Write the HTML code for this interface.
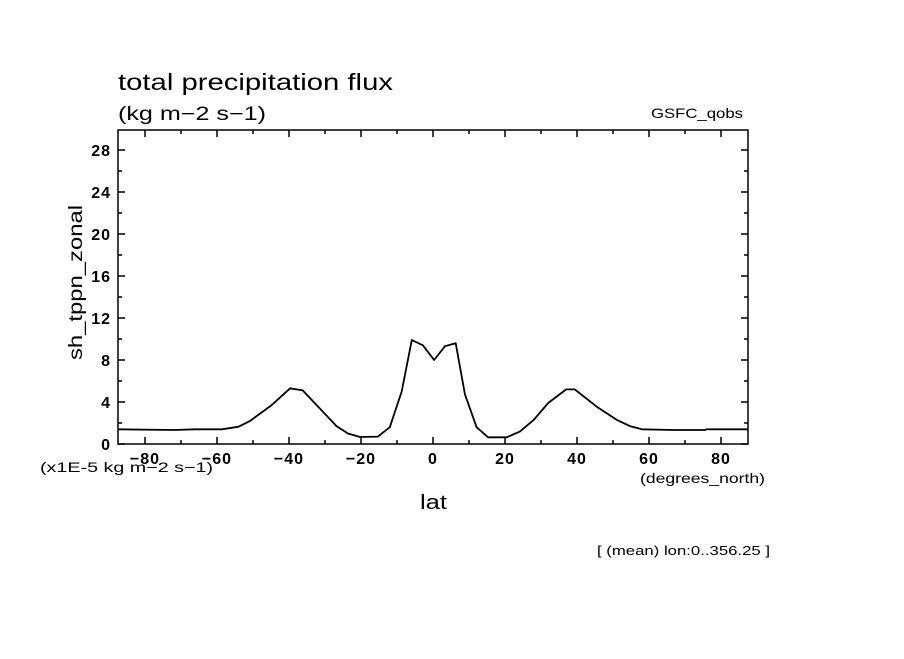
<!DOCTYPE html>
<html><head><meta charset="utf-8"><style>
body{margin:0;background:#fff;width:904px;height:654px;overflow:hidden}
text{font-family:"Liberation Sans",sans-serif;fill:#000}
</style></head><body>
<svg id="chart" width="904" height="654" xmlns="http://www.w3.org/2000/svg">
<text x="118" y="90" font-size="23" textLength="275" lengthAdjust="spacingAndGlyphs">total precipitation flux</text>
<text x="118" y="120" font-size="19" textLength="148" lengthAdjust="spacingAndGlyphs">(kg m−2 s−1)</text>
<text x="651" y="118" font-size="14" textLength="92" lengthAdjust="spacingAndGlyphs">GSFC_qobs</text>
<text transform="translate(82,360) rotate(-90)" font-size="19" textLength="155" lengthAdjust="spacingAndGlyphs">sh_tppn_zonal</text>
<text x="40" y="472" font-size="14" textLength="173" lengthAdjust="spacingAndGlyphs">(x1E-5 kg m−2 s−1)</text>
<text x="420" y="509" font-size="20" textLength="27" lengthAdjust="spacingAndGlyphs">lat</text>
<text x="640" y="483" font-size="14" textLength="125" lengthAdjust="spacingAndGlyphs">(degrees_north)</text>
<text x="597" y="555" font-size="13" textLength="173" lengthAdjust="spacingAndGlyphs">[ (mean) lon:0..356.25 ]</text>
<g id="axes"></g>
<g id="series"></g>
</svg>
<script>
const lats=[-87.5,-72,-66,-58.6,-54,-50.8,-44.8,-39.7,-36.2,-31.5,-26.8,-23.6,-20.3,-15.3,-12,-8.7,-5.9,-2.8,0.3,3.3,6.3,8.9,12.1,15.3,20.5,24.2,28,32,37,39.4,45.5,51,54.7,58,66.7,75.5,76,87.5];
const values=[1.4,1.33,1.4,1.4,1.65,2.2,3.7,5.3,5.1,3.4,1.7,1.0,0.67,0.7,1.6,5.0,9.9,9.4,8.0,9.3,9.6,4.7,1.6,0.64,0.64,1.2,2.3,3.9,5.2,5.2,3.55,2.3,1.7,1.4,1.33,1.33,1.4,1.4];
const xTicks=[-80,-60,-40,-20,0,20,40,60,80];
const yTicks=[0,4,8,12,16,20,24,28];
const xMin=-87.5,xMax=87.5,yMin=0,yMax=29.9;
const L=118,R=748,T=130,B=444;
const xs=v=>L+(v-xMin)/(xMax-xMin)*(R-L);
const ys=v=>B-(v-yMin)/(yMax-yMin)*(B-T);
const NS="http://www.w3.org/2000/svg";
const ax=document.getElementById('axes');
function mk(tag,attrs,parent){const e=document.createElementNS(NS,tag);for(const k in attrs)e.setAttribute(k,attrs[k]);parent.appendChild(e);return e;}
const frame=mk('rect',{x:L,y:T,width:R-L,height:B-T,fill:'none',stroke:'#000','stroke-width':1.5},ax);


for(let v=-80;v<=80;v+=10){
  const major=v%20===0, len=major?7:4;
  const t=mk('path',{d:`M${xs(v)},${B}v${-len}M${xs(v)},${T}v${len}`,stroke:'#000','stroke-width':1.5},ax);
  
  
}
xTicks.forEach(v=>{
  const lab=v<0?'−'+(-v):String(v);
  const t=mk('text',{x:xs(v),y:B+20,'font-size':16,'text-anchor':'middle','letter-spacing':'1','font-weight':'bold'},ax);
  t.textContent=lab;
  
  
});
for(let v=0;v<=29;v+=2){
  const major=v%4===0, len=major?7:4;
  const t=mk('path',{d:`M${L},${ys(v)}h${len}M${R},${ys(v)}h${-len}`,stroke:'#000','stroke-width':1.5},ax);
  
  
}
yTicks.forEach(v=>{
  const t=mk('text',{x:L-7,y:ys(v)+6,'font-size':16,'text-anchor':'end','letter-spacing':'1','font-weight':'bold'},ax);
  t.textContent=String(v);
  
  
});
const d=lats.map((la,i)=>(i?'L':'M')+xs(la).toFixed(1)+','+ys(values[i]).toFixed(1)).join('');
const line=mk('path',{d:d,fill:'none',stroke:'#000','stroke-width':1.8,'stroke-linejoin':'round'},document.getElementById('series'));


</script>
</body></html>
